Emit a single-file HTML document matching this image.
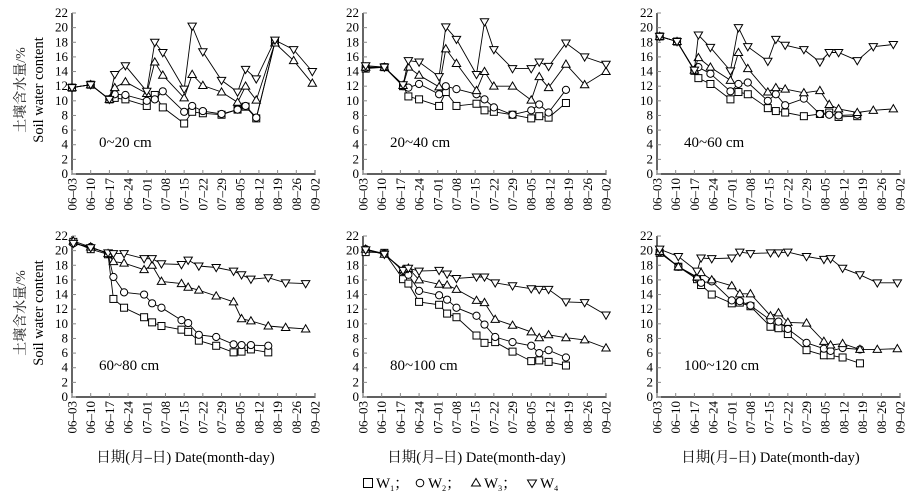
<!DOCTYPE html>
<html><head><meta charset="utf-8">
<style>
html,body{margin:0;padding:0;background:#fff;}
svg{display:block;font-family:"Liberation Serif","Noto Serif CJK SC",serif;}
</style></head>
<body>
<svg id="chart" width="923" height="494" viewBox="0 0 923 494" xmlns="http://www.w3.org/2000/svg"></svg>
<script>
const tickLabels = ["06–03","06–10","06–17","06–24","07–01","07–08","07–15","07–22","07–29","08–05","08–12","08–19","08–26","09–02"];
const yTicks = [0,2,4,6,8,10,12,14,16,18,20,22];
const depthLabels = ["0~20 cm","20~40 cm","40~60 cm","60~80 cm","80~100 cm","100~120 cm"];
const seriesNames = ["W1","W2","W3","W4"];

const days1 = [0,7,14,16,20,28,31,34,42,45,49,56,62,65,69,76,83,90];
const p1w1 = [11.8,12.2,10.2,10.4,10.2,9.3,10.8,9.1,6.9,8.5,8.3,8.1,8.8,9.2,7.6,18,null,null];
const p1w2 = [11.8,12.2,10.2,10.9,10.8,10.0,10.2,11.3,8.5,9.3,8.6,8.2,8.8,9.3,7.7,18,null,null];
const p1w3 = [11.8,12.2,10.2,11.8,12.6,11.0,15.3,13.5,10.4,13.6,12.1,11.2,9.8,12.0,10.1,17.9,15.5,12.4];
const p1w4 = [11.8,12.2,10.2,13.6,14.8,11.3,18,16.6,11.6,20.2,16.7,12.8,11.2,14.3,13,18.3,17,14];

const days2 = [1,8,15,17,21,28.5,31,35,42.5,45.5,49,56,63,66,69.5,76,83,91];
const p2w1 = [14.4,14.6,12,10.6,10.2,9.3,11.2,9.3,9.6,8.7,8.5,8.1,7.6,7.9,7.7,9.7,null,null];
const p2w2 = [14.5,14.6,12,11.8,12.3,10.9,12,11.6,10.9,10.2,9.1,8.1,8.7,9.5,8.4,11.5,null,null];
const p2w3 = [14.6,14.6,12.1,14.6,13.5,11.9,17.1,15.1,11.4,14.0,12,12,10.1,13.3,11.8,15,12.2,14];
const p2w4 = [14.8,14.6,12.2,15.5,15.3,13.3,20.1,18.4,13.6,20.8,17,14.4,14.4,15.3,14.7,17.9,16,15];

const days3 = [1,7.5,14,15.5,20,27.5,30.5,34,41.5,44.5,48,55,61,64.5,68,75,81,88.5];
const p3w1 = [18.8,18.1,14.1,13.1,12.3,10.2,11.2,10.9,9.0,8.6,8.4,7.9,8.2,8.4,7.8,7.9,null,null];
const p3w2 = [18.8,18.1,14.2,14.6,13.7,11.3,12.3,12.5,10.0,10.9,9.4,10.3,8.2,8.1,8.0,8.1,null,null];
const p3w3 = [18.8,18.1,14.2,15.9,14.6,12.8,16.6,14.4,11.2,11.8,11.6,11.1,11.4,9.5,8.9,8.4,8.7,8.9];
const p3w4 = [18.8,18.1,14.2,19,17.3,14.1,20,17.4,15.4,18.4,17.6,17,15.3,16.6,16.6,15.5,17.4,17.7];

const days4 = [0.5,7,13.5,15.5,19.5,27,30,33.5,41,43.5,47.5,54,60.5,63.5,67,73.5,80,87.5];
const p4w1 = [21.2,20.2,19.5,13.4,12.2,10.9,10.2,9.7,9.2,8.9,7.7,7.0,6.1,6.2,6.5,6.1,null,null];
const p4w2 = [21.0,20.5,19.6,16.4,14.3,14.0,12.8,12.2,10.5,10.1,8.5,8.2,7.2,7.1,7.1,7.0,null,null];
const p4w3 = [21.3,20.5,19.6,18.5,18.3,17.4,18.0,15.8,15.5,15.0,14.6,13.8,13.0,10.7,10.4,9.7,9.5,9.3];
const p4w4 = [21.0,20.4,19.7,19.6,19.6,18.9,18.9,18.2,18.1,18.7,17.9,17.7,17.2,16.7,16.1,16.3,15.6,15.5];

const days5 = [1,8,15,17,21,28.5,31.5,35,42.5,45.5,49.5,56,63,66,69.5,76,83,91];
const p5w1 = [19.8,19.7,16.1,15.5,13.0,12.6,11.4,10.9,8.4,7.4,7.5,6.2,4.9,5.0,4.8,4.3,null,null];
const p5w2 = [20.2,19.6,17.2,16.7,14.5,13.9,13.3,12.2,11.1,9.9,8.2,7.5,7.0,6.0,6.4,5.4,null,null];
const p5w3 = [20.2,19.5,17.4,17.6,16.0,15.4,15.3,14.7,13.2,12.9,10.6,9.8,8.9,8.1,8.5,8.1,7.8,6.7];
const p5w4 = [20.1,19.5,17.3,17.6,17.2,17.3,16.8,16.2,16.4,16.4,15.6,15.2,14.8,14.7,14.7,13,12.9,11.2];

const days6 = [1,8,15,16.5,20.5,28,31,35,42.5,45.5,49,56,62.5,65,69.5,76,82.5,90];
const p6w1 = [19.7,17.8,16.1,15.3,14.0,12.8,12.9,12.4,9.6,9.4,8.6,6.4,5.7,5.7,5.4,4.6,null,null];
const p6w2 = [19.8,17.8,16.3,15.6,15.8,13.2,13.1,12.5,10.5,10.3,9.3,7.4,6.6,6.3,6.7,6.5,null,null];
const p6w3 = [19.9,17.8,16.4,17.0,16.0,15.2,14.1,14.1,11.1,11.5,10.2,10.1,7.6,7.1,7.3,6.5,6.5,6.6];
const p6w4 = [20.2,19.2,17.2,19.0,18.9,19.0,19.8,19.6,19.7,19.7,19.8,19.2,18.8,18.9,17.6,16.7,15.6,15.6];

const panelDays = [days1,days2,days3,days4,days5,days6];
const panelSeries = [[p1w1,p1w2,p1w3,p1w4],[p2w1,p2w2,p2w3,p2w4],[p3w1,p3w2,p3w3,p3w4],
                     [p4w1,p4w2,p4w3,p4w4],[p5w1,p5w2,p5w3,p5w4],[p6w1,p6w2,p6w3,p6w4]];

const NS = "http://www.w3.org/2000/svg";
const svg = document.getElementById("chart");
function mk(tag, attrs, parent){
  const e = document.createElementNS(NS, tag);
  for (const k in attrs) e.setAttribute(k, attrs[k]);
  (parent||svg).appendChild(e);
  return e;
}
const lefts = [72,363,657];
const bottoms = [174,397];
const W = 243, H = 161;

for (let p=0;p<6;p++){
  const ax = lefts[p%3], ay = bottoms[Math.floor(p/3)];
  const g = mk("g",{});
  
  
  const xS = d => ax + d/91*W;
  const yS = v => ay - v/22*H;
  const axes = mk("path",{d:`M${ax},${ay-H} L${ax},${ay} L${ax+W},${ay} L${ax+W},${ay-4}`,fill:"none",stroke:"#000","stroke-width":1.2},g);
  
  
  yTicks.forEach(v=>{
    mk("line",{x1:ax,x2:ax+4,y1:yS(v),y2:yS(v),stroke:"#888","stroke-width":1},g);
    const t = mk("text",{x:ax-4,y:yS(v)+4,"text-anchor":"end","font-size":13},g);
    t.textContent = v;
    
    
  });
  tickLabels.forEach((lab,i)=>{
    const x = xS(i*7);
    mk("line",{x1:x,x2:x,y1:ay,y2:ay-4,stroke:"#888","stroke-width":1},g);
    const t = mk("text",{x:0,y:0,"text-anchor":"end","font-size":13,transform:`translate(${x+4.5},${ay+4}) rotate(-90)`},g);
    t.textContent = lab;
    
    
  });
  const dl = mk("text",{x:ax+27,y:ay-27,"font-size":15},g);
  dl.textContent = depthLabels[p];
  
  
  const days = panelDays[p];
  panelSeries[p].forEach((vals,s)=>{
    const sg = mk("g",{},g);
    
    
    let d = "";
    vals.forEach((v,i)=>{ if(v!==null){ d += (d?"L":"M") + xS(days[i]).toFixed(1)+","+yS(v).toFixed(1);} });
    mk("path",{d:d,fill:"none",stroke:"#000","stroke-width":0.9},sg);
    vals.forEach((v,i)=>{
      if(v===null) return;
      const x = xS(days[i]), y = yS(v);
      let m;
      if(s===0) m = mk("rect",{x:x-3.5,y:y-3.5,width:7,height:7},sg);
      else if(s===1) m = mk("circle",{cx:x,cy:y,r:3.6},sg);
      else if(s===2) m = mk("polygon",{points:`${x},${y-4.2} ${x-4.2},${y+3} ${x+4.2},${y+3}`},sg);
      else m = mk("polygon",{points:`${x},${y+4.2} ${x-4.2},${y-3} ${x+4.2},${y-3}`},sg);
      m.setAttribute("fill","#fff"); m.setAttribute("stroke","#000"); m.setAttribute("stroke-width","1");
      
      
    });
  });
}
[90,313].forEach(cy=>{
  const t1 = mk("text",{x:0,y:0,"text-anchor":"middle","font-size":14,fill:"#222",transform:`translate(25,${cy}) rotate(-90)`});
  t1.textContent = "土壤含水量/%";
  
  
  const t2 = mk("text",{x:0,y:0,"text-anchor":"middle","font-size":14.5,transform:`translate(43,${cy}) rotate(-90)`});
  t2.textContent = "Soil water content";
  
  
});
lefts.forEach(ax=>{
  const t = mk("text",{x:ax+W/2-8,y:462,"text-anchor":"middle","font-size":14.5});
  t.textContent = "日期(月–日) Date(month-day)";
  
  
});
const lg = mk("g",{});


const lx = [368,420,476,532];
seriesNames.forEach((n,s)=>{
  const x = lx[s], y = 483;
  let m;
  if(s===0) m = mk("rect",{x:x-4.5,y:y-4.5,width:9,height:9},lg);
  else if(s===1) m = mk("circle",{cx:x,cy:y,r:3.8},lg);
  else if(s===2) m = mk("polygon",{points:`${x},${y-4.5} ${x-4.5},${y+3} ${x+4.5},${y+3}`},lg);
  else m = mk("polygon",{points:`${x},${y+4.5} ${x-4.5},${y-3} ${x+4.5},${y-3}`},lg);
  m.setAttribute("fill","#fff"); m.setAttribute("stroke","#000");
  
  
  const t = mk("text",{x:x+8,y:y+5,"font-size":15},lg);
  t.innerHTML = `W<tspan font-size="8" dy="3">${s+1}</tspan><tspan dy="-3">${s<3?"；":""}</tspan>`;
  
  
});
</script>
</body></html>
